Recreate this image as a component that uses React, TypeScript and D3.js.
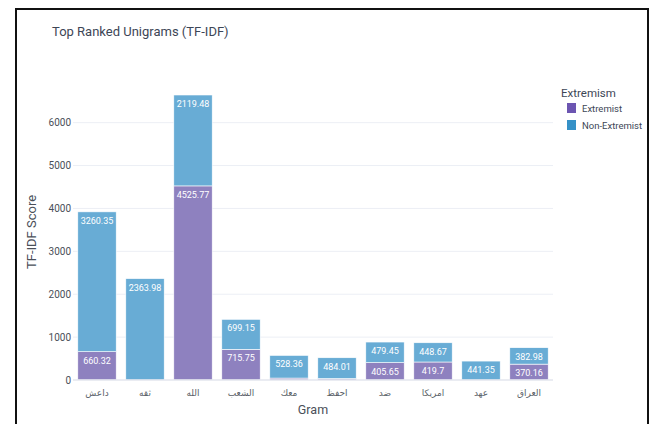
import React from "react";
import * as d3 from "d3";

const categories = ["داعش", "ثقه", "الله", "الشعب", "معك", "احفظ", "ضد", "امريكا", "عهد", "العراق"];
const extremist = [660.32, 0, 4525.77, 715.75, 45, 35, 405.65, 419.7, 0, 370.16];
const nonExtremist = [3260.35, 2363.98, 2119.48, 699.15, 528.36, 484.01, 479.45, 448.67, 441.35, 382.98];
const yTicks = [0, 1000, 2000, 3000, 4000, 5000, 6000];
const seriesNames = ["Extremist", "Non-Extremist"];

const W = 653;
const H = 424;
const plot = { left: 73, right: 553, top: 80, bottom: 380 };
const font = "Roboto, 'Noto Sans', sans-serif";
const barColors = ["#8e81bf", "#68acd5"];
const legendColors = ["#6c55b1", "#3591c7"];

export default function App() {
  const x = d3.scaleBand<string>().domain(categories).range([plot.left, plot.right]).paddingInner(0.2).paddingOuter(0.1);
  const y = d3.scaleLinear().domain([0, 6995]).range([plot.bottom, plot.top]);

  const rows = categories.map((c, i) => ({ cat: c, ext: extremist[i], non: nonExtremist[i] }));
  const stack = d3.stack<any>().keys(["ext", "non"])(rows as any);

  return (
    <svg width={W} height={H} style={{ position: "absolute", left: 0, top: 0, background: "#fff" }} fontFamily={font}>
      <rect x={0} y={0} width={W} height={H} fill="#fff" />
      <path d={`M16,${H + 5} L16,9 L648,9 L648,${H + 5}`} fill="none" stroke="#111" strokeWidth={2} />
      <text x={52} y={36} fontSize={13} fill="#3d4656">Top Ranked Unigrams (TF-IDF)</text>

      {yTicks.map((t) => (
        <g key={t}>
          {t > 0 && <line x1={plot.left} x2={plot.right} y1={y(t)} y2={y(t)} stroke="#eceff5" strokeWidth={1} />}
          <text x={plot.left - 2} y={y(t)} dy="0.35em" textAnchor="end" fontSize={10} fill="#4a4f58">{t}</text>
        </g>
      ))}

      {stack.map((layer, li) => (
        <g key={li}>
          {layer.map((d, i) => {
            const y0 = y(d[0]);
            const y1 = y(d[1]);
            const h = y0 - y1;
            const val = li === 0 ? extremist[i] : nonExtremist[i];
            const bx = x(categories[i])!;
            const bw = x.bandwidth();
            return (
              <g key={i}>
                {h > 0 && <rect x={bx} y={y1} width={bw} height={h} fill={barColors[li]} stroke="#fff" strokeWidth={0.6} />}
                {h > 13 && (
                  <text x={bx + bw / 2} y={y1 + 12} textAnchor="middle" fontSize={9} fill="#fff">{val}</text>
                )}
              </g>
            );
          })}
        </g>
      ))}

      <line x1={plot.left} x2={plot.right} y1={y(0)} y2={y(0)} stroke="#e3e6ee" strokeWidth={1.5} />

      {categories.map((c) => (
        <text key={c} x={x(c)! + x.bandwidth() / 2} y={396} textAnchor="middle" fontSize={9} fill="#5a5f68" fontFamily="'Noto Sans', 'DejaVu Sans', sans-serif">{c}</text>
      ))}

      <text x={(plot.left + plot.right) / 2} y={414} textAnchor="middle" fontSize={12.5} fill="#4a4f58">Gram</text>
      <text transform={`translate(36,${(plot.top + plot.bottom) / 2 + 2}) rotate(-90)`} textAnchor="middle" fontSize={13} fill="#4a4f58">TF-IDF Score</text>

      <text x={561} y={97} fontSize={11.5} fill="#3d4656">Extremism</text>
      {seriesNames.map((s, i) => (
        <g key={s}>
          <rect x={567} y={103 + i * 17} width={9} height={10} fill={legendColors[i]} />
          <text x={582} y={112 + i * 17} fontSize={9.5} fill="#3d4656">{s}</text>
        </g>
      ))}
    </svg>
  );
}
